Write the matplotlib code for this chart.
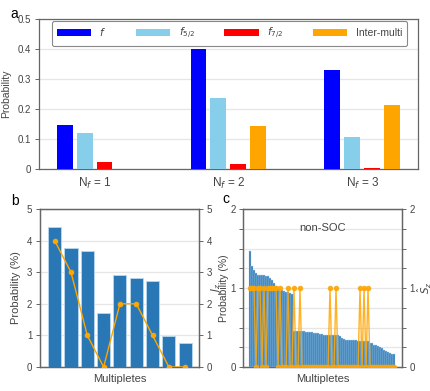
import matplotlib
matplotlib.use('Agg')

import numpy as np
import matplotlib.pyplot as plt

plt.rcParams['font.family'] = ['Liberation Sans', 'DejaVu Sans']
plt.rcParams['mathtext.fontset'] = 'dejavusans'

# panel a: orbital-resolved probabilities per N_f sector
groups = ['N$_f$ = 1', 'N$_f$ = 2', 'N$_f$ = 3']
prob_f = [0.145, 0.400, 0.329]
prob_f52 = [0.119, 0.238, 0.108]
prob_f72 = [0.024, 0.015, 0.003]
prob_inter = [0.0, 0.143, 0.215]
series_labels = ['$f$', '$f_{5/2}$', '$f_{7/2}$', 'Inter-multi']

# panel b: SOC multiplets
mult_prob_b = [4.42, 3.76, 3.66, 1.72, 2.90, 2.82, 2.72, 0.98, 0.77]
jz_b = [4, 3, 1, 0, 2, 2, 1, 0, 0]

# panel c: non-SOC multiplets
mult_prob_c = [1.47, 1.28, 1.23, 1.19, 1.17, 1.16, 1.16, 1.16, 1.15, 1.15,
               1.13, 1.10, 1.06, 1.02, 1.00, 0.98, 0.97, 0.96, 0.95, 0.95,
               0.94, 0.93,
               0.46, 0.46, 0.455, 0.455, 0.45, 0.45,
               0.445, 0.44, 0.44, 0.44,
               0.43, 0.425, 0.425, 0.42, 0.42,
               0.41, 0.405, 0.405, 0.405, 0.40, 0.40, 0.40, 0.40,
               0.39, 0.37,
               0.35, 0.345, 0.345, 0.345, 0.34, 0.34, 0.34,
               0.335, 0.335, 0.335, 0.33, 0.33, 0.325,
               0.31, 0.30, 0.28, 0.275, 0.265, 0.25, 0.235, 0.215, 0.205,
               0.195, 0.18, 0.17, 0.16]
sz_one_idx = [0, 1, 2, 4, 5, 7, 9, 10, 11, 12, 13, 15, 19, 22, 25, 40, 43, 55, 57, 59]

txt = '#444444'
spine_c = '#666666'
grid_c = '#e6e6e6'
bar_c = '#2a77b6'
line_c = '#ffa500'


def style(ax):
    for s in ax.spines.values():
        s.set_color(spine_c)
        s.set_linewidth(0.9)
    ax.tick_params(labelsize=7, colors=spine_c, labelcolor=txt, length=3, width=0.7, pad=2.5)


fig = plt.figure(figsize=(4.30, 3.91), dpi=100)

# ---- panel a
ax = fig.add_axes([0.0907, 0.568, 0.881, 0.383])
x = np.arange(len(groups))
stride = 0.149
w = 0.119
cols = ['#0000ff', '#87ceeb', '#ff0000', '#ffa500']
for k, (vals, c, lab) in enumerate(zip([prob_f, prob_f52, prob_f72, prob_inter], cols, series_labels)):
    ax.bar(x + (k - 1.5) * stride, vals, w, color=c, label=lab, zorder=3)
ax.set_xlim(-0.415, 2.415)
ax.set_ylim(0, 0.5)
ax.set_yticks([0, 0.1, 0.2, 0.3, 0.4, 0.5])
ax.set_yticklabels(['0', '0.1', '0.2', '0.3', '0.4', '0.5'])
ax.set_xticks(x)
ax.set_xticklabels(groups)
ax.grid(axis='y', color=grid_c, linewidth=0.9, zorder=0)
style(ax)
ax.tick_params(axis='x', length=0, labelsize=8.5, pad=5)
ax.set_ylabel('Probability', fontsize=7.5, color=txt, labelpad=5)
leg = ax.legend(loc='upper left', ncol=4, fontsize=7.5, handlelength=3.3,
                handleheight=0.7, columnspacing=2.0, borderpad=0.45,
                borderaxespad=0.0,
                bbox_to_anchor=(0.034, 0.0, 0.937, 0.985), fancybox=True,
                framealpha=1, edgecolor='#888888', mode='expand')
leg.get_frame().set_linewidth(0.8)
for t in leg.get_texts():
    t.set_color(txt)
fig.text(0.025, 0.955, 'a', fontsize=10)

# ---- panel b
axb = fig.add_axes([0.093, 0.0614, 0.370, 0.404])
xb = np.arange(len(mult_prob_b))
axb.bar(xb, mult_prob_b, 0.8, color=bar_c, edgecolor='#b8d8ef', linewidth=0.6, zorder=3)
axb.set_xlim(-0.9, 8.85)
axb.set_ylim(0, 5)
axb.set_yticks(range(6))
axb.set_xticks([])
axb.grid(axis='y', color=grid_c, linewidth=0.9, zorder=0)
style(axb)
axb.set_ylabel('Probability (%)', fontsize=8, color=txt, labelpad=4)
axb.set_xlabel('Multipletes', fontsize=8, color=txt, labelpad=5)
axb2 = axb.twinx()
axb2.plot(xb, jz_b, '-o', color=line_c, markersize=3, linewidth=1.0, zorder=4)
axb2.set_ylim(0, 5)
axb2.set_yticks(range(6))
style(axb2)
axb2.set_ylabel('$J_z$', fontsize=7.5, color=txt, labelpad=-2)
fig.text(0.025, 0.475, 'b', fontsize=10)

# ---- panel c
axc = fig.add_axes([0.565, 0.0614, 0.370, 0.404])
xc = np.arange(len(mult_prob_c))
axc.bar(xc, mult_prob_c, 0.9, color=bar_c, edgecolor='#b8d8ef', linewidth=0.3, zorder=3)
axc.set_xlim(-3.5, 76)
axc.set_ylim(0, 2)
axc.set_yticks(np.arange(0, 2.01, 0.25))
axc.set_yticklabels(['0', '', '', '', '1', '', '', '', '2'])
axc.set_xticks([])
axc.grid(axis='y', color=grid_c, linewidth=0.9, zorder=0)
style(axc)
axc.tick_params(axis='y', pad=2)
axc.set_ylabel('Probability (%)', fontsize=7.5, color=txt)
axc.yaxis.set_label_coords(-0.085, 0.5)
axc.set_xlabel('Multipletes', fontsize=8, color=txt, labelpad=5)
axc.text(0.5, 0.88, 'non-SOC', transform=axc.transAxes, ha='center', va='center',
         fontsize=8, color=txt)
sz_c = np.zeros(len(mult_prob_c))
sz_c[sz_one_idx] = 1
axc2 = axc.twinx()
axc2.plot(xc, sz_c, '-o', color=line_c, markersize=3, linewidth=1.0, alpha=0.85, zorder=4)
axc2.set_ylim(0, 2)
axc2.set_yticks(np.arange(0, 2.01, 0.25))
axc2.set_yticklabels(['0', '', '', '', '1', '', '', '', '2'])
style(axc2)
axc2.set_ylabel('$\\hat{S}_z$', fontsize=7.5, color=txt)
axc2.yaxis.set_label_coords(1.085, 0.5)
fig.text(0.516, 0.482, 'c', fontsize=10)

plt.savefig('out.png', dpi=100)
plt.close(fig)
